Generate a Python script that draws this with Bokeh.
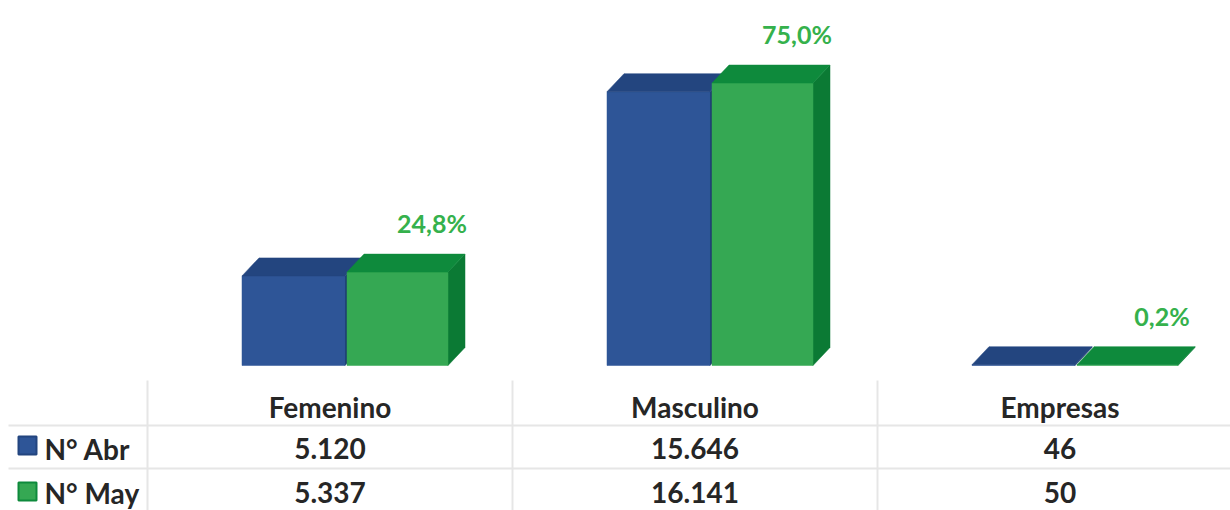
from bokeh.plotting import figure
from bokeh.models import Range1d
from bokeh.embed import file_html
from bokeh.resources import INLINE
from bokeh.core.properties import value

# ---------------- data ----------------
categories = ["Femenino", "Masculino", "Empresas"]
series_names = ["N° Abr", "N° May"]
abr = [5120, 15646, 46]
may = [5337, 16141, 50]

def fmt_thousands(v):
    return f"{v:,}".replace(",", ".")

pct_may = [f"{v / sum(may) * 100:.1f}".replace(".", ",") + "%" for v in may]

# ---------------- layout constants ----------------
W, H = 1230, 510
K = 0.0175          # px per unit
BASE = 365          # baseline pixel row
COL_LEFT, COL_W = 147, 365
DX = 17
DY = 18 / K
FONT = value("Lato")
TXT = "#262626"

series = [
    dict(vals=abr, off=(-88, 15), front="#2E5597", top="#23457F", side="#1E3C6E"),
    dict(vals=may, off=(17, 118), front="#35A853", top="#0E8A3C", side="#0B7A34"),
]

centers = [COL_LEFT + COL_W * (i + 0.5) for i in range(len(categories))]

p = figure(width=W, height=H,
           x_range=Range1d(0, W),
           y_range=Range1d(-(H - BASE) / K, BASE / K),
           x_axis_location=None, y_axis_location=None,
           output_backend="svg", toolbar_location=None, min_border=0)
p.grid.visible = False
p.outline_line_color = None
p.background_fill_color = "white"
p.border_fill_color = "white"
p.extra_y_ranges = {"px": Range1d(H, 0)}

# ---------------- 3D bars ----------------
for s in series:
    x0s = [c + s["off"][0] for c in centers]
    x1s = [c + s["off"][1] for c in centers]
    vals = s["vals"]
    side_xs = [[x1, x1 + DX, x1 + DX, x1] for x1 in x1s]
    side_ys = [[0, DY, v + DY, v] for v in vals]
    p.patches(xs=side_xs, ys=side_ys, fill_color=s["side"], line_color=s["side"], line_width=0.5)
    p.quad(left=x0s, right=x1s, bottom=[0] * len(vals), top=vals,
           fill_color=s["front"], line_color=s["front"], line_width=0.5)
    top_xs = [[x0, x1, x1 + DX, x0 + DX] for x0, x1 in zip(x0s, x1s)]
    top_ys = [[v, v, v + DY, v + DY] for v in vals]
    p.patches(xs=top_xs, ys=top_ys, fill_color=s["top"], line_color=s["top"], line_width=0.5)

# percentage labels above green bars
p.text(x=[c + series[1]["off"][0] + 85 for c in centers],
       y=[v + DY + 31 / K for v in may],
       text=pct_may, text_font=FONT, text_font_size="25px", text_font_style="bold",
       text_color="#35B14C", text_align="center", text_baseline="middle")

# ---------------- data table ----------------
p.segment(x0=[8, 8], y0=[425, 468], x1=[W, W], y1=[425, 468],
          line_color="#E6E6E6", line_width=2, y_range_name="px")
vx = [COL_LEFT + COL_W * i for i in range(len(categories))]
p.segment(x0=vx, y0=[380] * len(vx), x1=vx, y1=[H] * len(vx),
          line_color="#E6E6E6", line_width=2, y_range_name="px")

p.text(x=centers, y=[406] * len(centers), text=categories, text_font=FONT,
       text_font_size="28px", text_font_style="bold", text_color=TXT,
       text_align="center", text_baseline="middle", y_range_name="px")

row_y = [448, 492]
for ry, vals in zip(row_y, [abr, may]):
    p.text(x=centers, y=[ry] * len(centers), text=[fmt_thousands(v) for v in vals],
           text_font=FONT, text_font_size="28px", text_font_style="bold", text_color=TXT,
           text_align="center", text_baseline="middle", y_range_name="px")

p.scatter(x=[27, 27], y=[445, 491], marker="square", size=18,
          fill_color=[series[0]["front"], series[1]["front"]],
          line_color=[series[0]["top"], series[1]["top"]], line_width=2, y_range_name="px")
p.text(x=[44, 44], y=row_y, text=series_names, text_font=FONT, text_font_size="28px",
       text_font_style="bold", text_color=TXT, text_align="left", text_baseline="middle",
       y_range_name="px")

open("out.html", "w").write(file_html(p, INLINE))
